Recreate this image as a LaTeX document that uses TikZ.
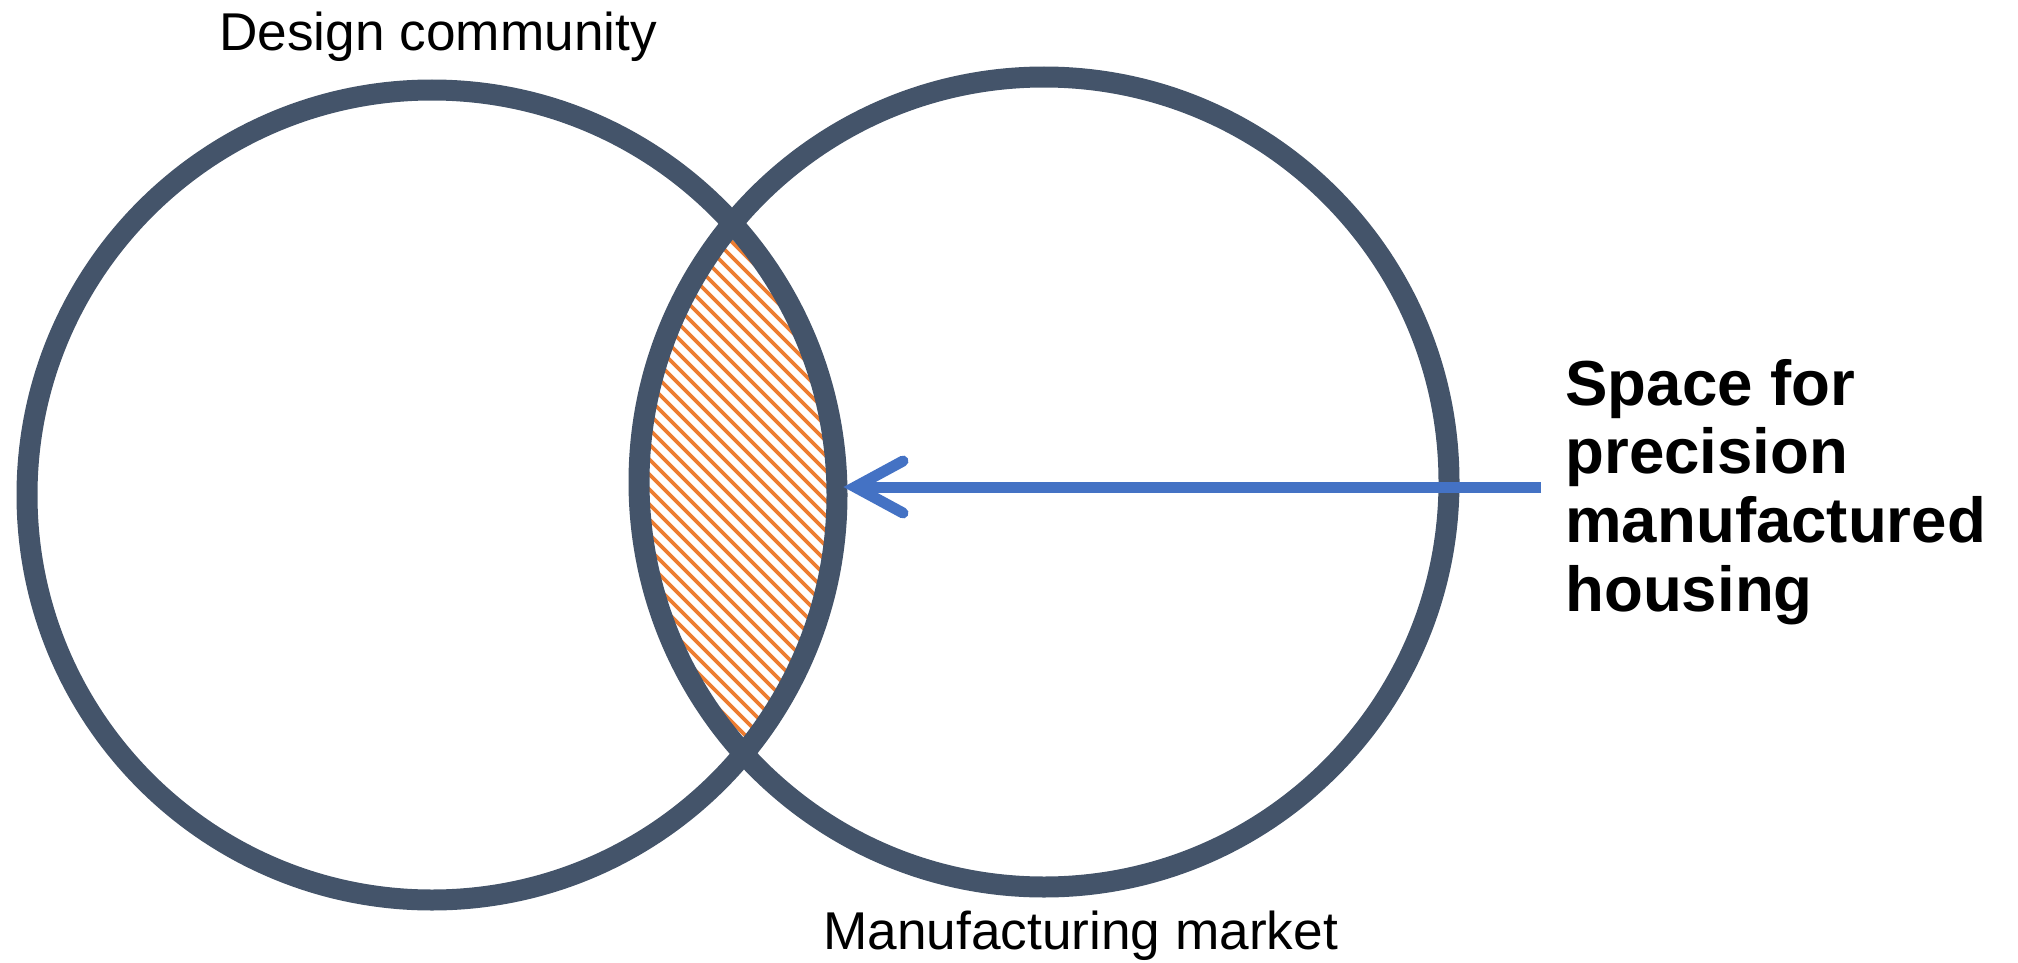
\documentclass[tikz,border=0pt]{standalone}
\usepackage{fontspec}
\setmainfont{Liberation Sans}
\definecolor{ringcol}{HTML}{44546A}
\definecolor{hatchcol}{HTML}{ED7D31}
\definecolor{arrowcol}{HTML}{4472C4}
\begin{document}
\begin{tikzpicture}[x=0.5pt,y=-0.5pt,
  ring/.style={draw=ringcol,line width=10.5pt},
  hatchline/.style={draw=hatchcol,line width=1.9pt},
  shaft/.style={draw=arrowcol,line width=5.5pt},
  barb/.style={draw=arrowcol,line width=5.5pt,line cap=round,line join=miter},
  lbl/.style={inner sep=0pt,anchor=base west,font=\fontsize{26.6}{31}\selectfont},
  callout/.style={inner sep=0pt,anchor=base west,align=left,font=\fontsize{31.8}{34.3}\selectfont\bfseries}]
\useasboundingbox (0,0) rectangle (2018,963);
\coordinate (cl) at (432,495);
\coordinate (cr) at (1044,482);
\begin{scope}
  \clip (cl) circle[radius=405];
  \clip (cr) circle[radius=405];
  \foreach \c in {-200,-185,...,700} \draw[hatchline] (\c,0) -- (\c+963,963);
\end{scope}
\draw[ring] (cl) circle[radius=405];
\draw[ring] (cr) circle[radius=405];
\coordinate (tail) at (1541,487);
\coordinate (tip) at (855,487);
\coordinate (barbU) at (903,461);
\coordinate (barbD) at (903,513);
\draw[shaft] (tail) -- (tip);
\draw[barb] (barbU) -- (tip) -- (barbD);
\node[lbl] (design) at (219,51) {Design community};
\node[lbl] (market) at (823,949) {Manufacturing market};
\node[callout] (space) at (1565,611) {Space for\\precision\\manufactured\\housing};
\end{tikzpicture}
\end{document}
